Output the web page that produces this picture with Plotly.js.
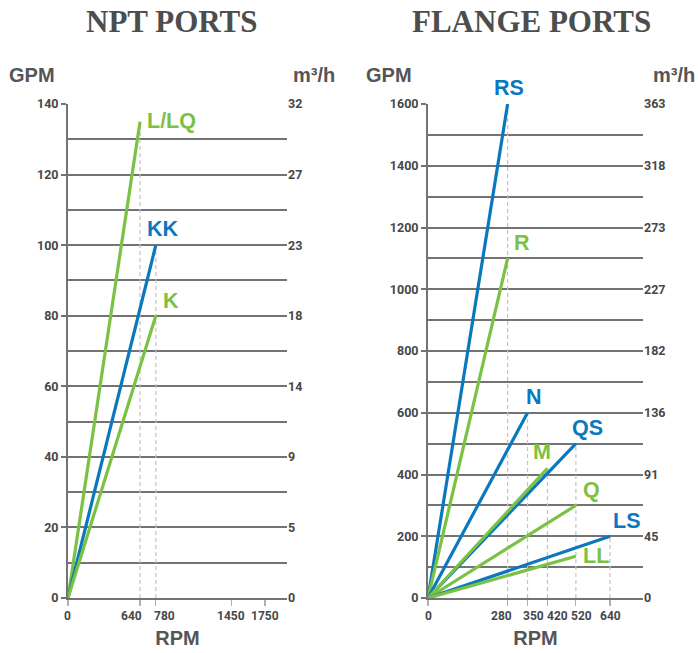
<!DOCTYPE html>
<html>
<head>
<meta charset="utf-8">
<script src="https://cdn.plot.ly/plotly-3.0.1.min.js"></script>
<style>html,body{margin:0;padding:0;background:#fff;}#chart{width:698px;height:653px;}</style>
</head>
<body>
<div id="chart"></div>
<script>
// ---- data ----
const nptNames = ['L/LQ', 'KK', 'K'];
const nptRpm = [640, 780, 780];
const nptGpm = [135, 100, 80];
const nptColorKeys = ['green', 'blue', 'green'];
const nptXTicks = [0, 640, 780, 1450, 1750];
const nptYTicks = [0, 20, 40, 60, 80, 100, 120, 140];
const nptM3Labels = ['0', '5', '9', '14', '18', '23', '27', '32'];

const flgNames = ['RS', 'R', 'N', 'QS', 'M', 'Q', 'LS', 'LL'];
const flgRpm = [280, 280, 350, 520, 420, 520, 640, 520];
const flgGpm = [1600, 1100, 600, 500, 420, 300, 200, 135];
const flgColorKeys = ['blue', 'green', 'blue', 'blue', 'green', 'green', 'blue', 'green'];
const flgXTicks = [0, 280, 350, 420, 520, 640];
const flgYTicks = [0, 200, 400, 600, 800, 1000, 1200, 1400, 1600];
const flgM3Labels = ['0', '45', '91', '136', '182', '227', '273', '318', '363'];

// ---- styles ----
const COLORS = {green: '#7bc143', blue: '#0a78be'};
const GRID = '#737373';
const TXT = '#474747';
const tickFont = {family: 'Roboto, Liberation Sans, sans-serif', size: 12, color: TXT, weight: 'bold'};
const yTickFont = {family: 'Roboto, Liberation Sans, sans-serif', size: 12.5, color: TXT, weight: 'bold'};
const labelFont = {family: 'Liberation Sans, Arial, sans-serif', size: 20, color: '#555555', weight: 'bold'};
const titleFont = {family: 'Liberation Serif, serif', size: 31, color: '#4d4d4d', weight: 'bold'};
const seriesFontFamily = 'Liberation Sans, Arial, sans-serif';

// x tick label nudges (style only)
const nptXShift = [0, -9, 9, 0, 0];
const flgXShift = [0, -6, 6, 10, 6, 0];

// label placement (style only)
const nptLabelPos = {
  'L/LQ': {xanchor: 'left', yanchor: 'middle', xshift: 5, yshift: 1},
  'KK': {xanchor: 'center', yanchor: 'bottom', xshift: 7, yshift: 2},
  'K': {xanchor: 'left', yanchor: 'bottom', xshift: 5, yshift: 1}
};
const flgLabelPos = {
  'RS': {xanchor: 'center', yanchor: 'bottom', xshift: 1, yshift: 2},
  'R': {xanchor: 'left', yanchor: 'bottom', xshift: 4, yshift: 1},
  'N': {xanchor: 'center', yanchor: 'bottom', xshift: 6, yshift: 2},
  'QS': {xanchor: 'center', yanchor: 'bottom', xshift: 12, yshift: 2},
  'M': {xanchor: 'center', yanchor: 'bottom', xshift: -5, yshift: 2},
  'Q': {xanchor: 'left', yanchor: 'bottom', xshift: 5, yshift: 1},
  'LS': {xanchor: 'left', yanchor: 'bottom', xshift: 1, yshift: 1},
  'LL': {xanchor: 'left', yanchor: 'middle', xshift: 5, yshift: 0}
};

const traces = [];
const annotations = [];

function addChart(names, rpm, gpm, keys, xa, ya, pos) {
  const seen = {};
  for (let i = 0; i < names.length; i++) {
    const k = rpm[i];
    if (seen[k] === undefined || gpm[i] > seen[k]) seen[k] = gpm[i];
  }
  Object.keys(seen).forEach(k => {
    traces.push({x: [Number(k), Number(k)], y: [0, seen[k]], xaxis: xa, yaxis: ya, mode: 'lines',
      line: {color: '#c2c2c2', width: 1.2, dash: '4px,3px'}, hoverinfo: 'skip', showlegend: false, cliponaxis: false});
  });
  for (let i = 0; i < names.length; i++) {
    traces.push({x: [0, rpm[i]], y: [0, gpm[i]], xaxis: xa, yaxis: ya, mode: 'lines', name: names[i],
      line: {color: COLORS[keys[i]], width: 3.2}, showlegend: false, cliponaxis: false});
    const p = pos[names[i]];
    annotations.push({x: rpm[i], y: gpm[i], xref: xa, yref: ya, text: names[i], showarrow: false,
      xanchor: p.xanchor, yanchor: p.yanchor, xshift: p.xshift, yshift: p.yshift,
      font: {family: seriesFontFamily, size: 21.5, color: COLORS[keys[i]], weight: 'bold'}});
  }
}
addChart(nptNames, nptRpm, nptGpm, nptColorKeys, 'x', 'y', nptLabelPos);
addChart(flgNames, flgRpm, flgGpm, flgColorKeys, 'x2', 'y2', flgLabelPos);

function addXLabels(ticks, shifts, xa, ya) {
  ticks.forEach((t, i) => {
    annotations.push({x: t, y: 0, xref: xa, yref: ya, text: String(t), showarrow: false,
      xanchor: 'center', yanchor: 'top', xshift: shifts[i], yshift: -9, font: tickFont});
  });
}
addXLabels(nptXTicks, nptXShift, 'x', 'y');
addXLabels(flgXTicks, flgXShift, 'x2', 'y2');

traces.push({x: [0], y: [0], xaxis: 'x', yaxis: 'y3', mode: 'markers', marker: {opacity: 0}, hoverinfo: 'skip', showlegend: false});
traces.push({x: [0], y: [0], xaxis: 'x2', yaxis: 'y4', mode: 'markers', marker: {opacity: 0}, hoverinfo: 'skip', showlegend: false});

const yDom = [0.0842, 0.8407];
const leftDom = [0.0974, 0.4112];
const rightDom = [0.6132, 0.9212];

function xAxis(dom, range, ticks, anchor) {
  return {domain: dom, range: range, anchor: anchor, tickmode: 'array', tickvals: ticks, showticklabels: false,
    ticks: 'outside', ticklen: 6, tickcolor: '#b0b0b0', tickwidth: 1.2, showgrid: false, zeroline: false,
    showline: true, linecolor: GRID, linewidth: 2, fixedrange: true,
    title: {text: 'RPM', font: labelFont, standoff: 26}};
}
function yAxis(dom, range, ticks, minorStep, anchor) {
  return {domain: dom, range: range, anchor: anchor, tickmode: 'array', tickvals: ticks, ticktext: ticks.map(String),
    ticks: 'outside', ticklen: 5, tickcolor: GRID, tickwidth: 2, showgrid: true, gridcolor: GRID, gridwidth: 2,
    minor: {dtick: minorStep, showgrid: true, gridcolor: GRID, gridwidth: 2, ticks: ''},
    zeroline: false, showline: true, linecolor: GRID, linewidth: 2, tickfont: yTickFont, fixedrange: true};
}
function yRight(dom, range, ticks, labels, overlay, anchor) {
  return {domain: dom, range: range, overlaying: overlay, anchor: anchor, side: 'right', tickmode: 'array',
    tickvals: ticks, ticktext: labels, ticks: '', showgrid: false, zeroline: false, showline: false,
    tickfont: yTickFont, fixedrange: true};
}

const layout = {
  width: 698, height: 653,
  margin: {l: 0, r: 0, t: 0, b: 0},
  paper_bgcolor: '#ffffff', plot_bgcolor: 'rgba(0,0,0,0)',
  showlegend: false,
  xaxis: xAxis(leftDom, [0, 1945], nptXTicks, 'y'),
  yaxis: yAxis(yDom, [0, 140], nptYTicks, 10, 'x'),
  xaxis2: xAxis(rightDom, [0, 756], flgXTicks, 'y2'),
  yaxis2: yAxis(yDom, [0, 1600], flgYTicks, 100, 'x2'),
  yaxis3: yRight(yDom, [0, 140], nptYTicks, nptM3Labels, 'y', 'x'),
  yaxis4: yRight(yDom, [0, 1600], flgYTicks, flgM3Labels, 'y2', 'x2'),
  annotations: annotations.concat([
    {text: 'NPT PORTS', x: 171 / 698, y: 1 - 22 / 653, xref: 'paper', yref: 'paper', showarrow: false, xanchor: 'center', yanchor: 'middle', font: titleFont},
    {text: 'FLANGE PORTS', x: 531 / 698, y: 1 - 22 / 653, xref: 'paper', yref: 'paper', showarrow: false, xanchor: 'center', yanchor: 'middle', font: titleFont},
    {text: 'GPM', x: 7 / 698, y: 1 - 75 / 653, xref: 'paper', yref: 'paper', showarrow: false, xanchor: 'left', yanchor: 'middle', font: labelFont},
    {text: 'm³/h', x: 337 / 698, y: 1 - 75 / 653, xref: 'paper', yref: 'paper', showarrow: false, xanchor: 'right', yanchor: 'middle', font: labelFont},
    {text: 'GPM', x: 364 / 698, y: 1 - 75 / 653, xref: 'paper', yref: 'paper', showarrow: false, xanchor: 'left', yanchor: 'middle', font: labelFont},
    {text: 'm³/h', x: 697 / 698, y: 1 - 75 / 653, xref: 'paper', yref: 'paper', showarrow: false, xanchor: 'right', yanchor: 'middle', font: labelFont}
  ])
};

Plotly.newPlot('chart', traces, layout, {staticPlot: true, displayModeBar: false});
</script>
</body>
</html>
